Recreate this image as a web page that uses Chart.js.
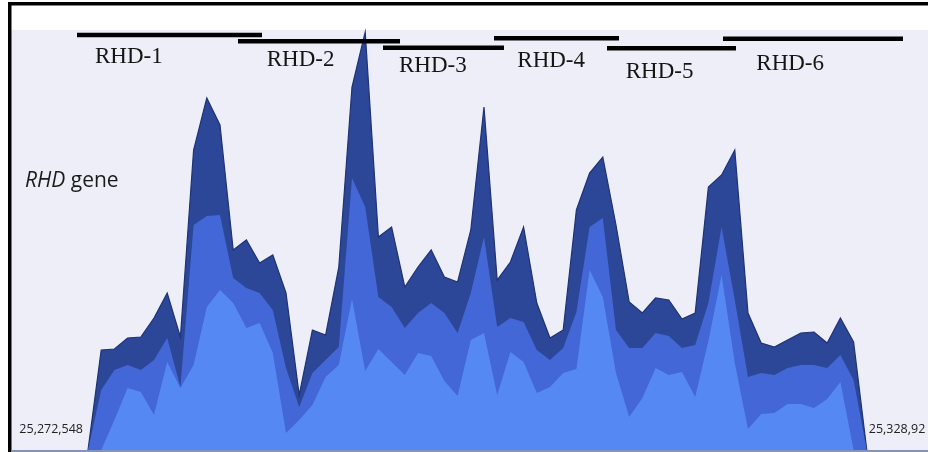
<!DOCTYPE html>
<html><head><meta charset="utf-8">
<script src="https://cdn.jsdelivr.net/npm/chart.js@4/dist/chart.umd.min.js"></script>
<style>html,body{margin:0;padding:0;background:#fff}canvas{display:block}</style>
</head><body>
<canvas id="c" width="928" height="452"></canvas>
<script>
// region + bins (coverage bins, ~955 bp each)
const START=25272548, BIN=955, NBINS=60;
const startLabel='25,272,548', endLabel='25,328,92';
const binPos=Array.from({length:NBINS},(_,i)=>START+i*BIN);

// depth per bin, three overlaid tracks (back to front)
const darkDepth=[0,100,101,112,113,132,157,113,300,352,325,200,210,187,195,157,55,120,115,183,
  363,418,213,223,163,183,200,173,168,220,343,170,188,223,147,112,120,240,277,293,
  225,148,137,152,150,131,137,263,275,300,137,107,103,110,117,118,107,132,108,0];
const midDepth=[0,60,80,85,80,90,112,63,225,234,235,172,162,157,140,82,43,77,90,103,
  272,243,153,143,122,137,147,137,117,157,213,123,132,128,100,90,102,138,223,232,
  120,102,102,117,114,102,105,147,223,150,73,77,75,82,85,85,82,95,70,0];
const lightDepth=[0,0,30,62,58,35,88,62,85,143,160,147,122,127,97,17,30,45,73,85,
  151,79,101,88,75,97,94,69,54,110,117,55,98,88,57,63,77,81,180,153,
  77,33,52,82,75,78,53,109,175,87,21,36,37,46,46,42,51,68,0,0];

// exon bars
const exonNames=['RHD-1','RHD-2','RHD-3','RHD-4','RHD-5','RHD-6'];
const exonStart=[25271752,25283400,25293891,25301922,25310098,25318490];
const exonEnd=[25285137,25295121,25302646,25310966,25319431,25331513];
const exonLevel=[415,408.7,402.2,411.8,401.7,411.3];
const exonLabelPos=[25273054,25285477,25295049,25303608,25311451,25320900];
const exonLabelLevel=[387,384,377.7,383.3,371.7,380];

const pts=arr=>arr.map((v,i)=>({x:binPos[i],y:v}));
const area=(data,color,border,bw)=>({data:pts(data),backgroundColor:color,borderColor:border,
  borderWidth:bw,fill:'origin',pointRadius:0,tension:0});

const datasets=[
  area(lightDepth,'#5688f4','#5688f4',0),
  area(midDepth,'#4367d6','#4367d6',0),
  area(darkDepth,'#2c4797','#1e3274',1.2),
];
exonNames.forEach((n,i)=>datasets.unshift({
  data:[{x:exonStart[i],y:exonLevel[i]},{x:exonEnd[i],y:exonLevel[i]}],
  borderColor:'#000',borderWidth:4.5,borderCapStyle:'butt',fill:false,pointRadius:0}));

const decor={
  id:'decor',
  beforeDraw(ch){
    const c=ch.ctx;
    c.save();
    c.fillStyle='#fff'; c.fillRect(0,0,ch.width,ch.height);
    c.fillStyle='#eeeef8'; c.fillRect(11,30,ch.width-11,421);
    c.fillStyle='#000';
    c.fillRect(8,2,ch.width-8,3.5);   // top frame
    c.fillRect(8,2,3.5,ch.height-2);  // left frame
    c.fillStyle='#8593b6'; c.fillRect(11,450,ch.width-11,2);
    c.restore();
  },
  afterDatasetsDraw(ch){
    const c=ch.ctx, xs=ch.scales.x, ys=ch.scales.y;
    c.save();
    c.fillStyle='#151515'; c.textAlign='left'; c.textBaseline='alphabetic';
    c.font='23px "Liberation Serif", serif';
    exonNames.forEach((n,i)=>c.fillText(n,xs.getPixelForValue(exonLabelPos[i]),ys.getPixelForValue(exonLabelLevel[i])));
    // gene title
    c.fillStyle='#1a1a1a';
    c.font='italic 21px "Open Sans", sans-serif';
    c.fillText('RHD',25,187);
    const w=c.measureText('RHD').width;
    c.font='21px "Open Sans", sans-serif';
    c.fillText(' gene',25+w,187);
    // region ends
    c.font='12.5px "Open Sans", sans-serif'; c.fillStyle='#222';
    const y0=ys.getPixelForValue(17);
    c.textAlign='right'; c.fillText(startLabel,xs.getPixelForValue(binPos[0])-5,y0);
    c.textAlign='left'; c.fillText(endLabel,xs.getPixelForValue(binPos[NBINS-1])+2,y0);
    c.restore();
  }
};

new Chart(document.getElementById('c'),{
  type:'line',
  data:{datasets},
  options:{
    responsive:false,animation:false,devicePixelRatio:1,
    layout:{padding:{left:0,right:0,top:0,bottom:2}},
    plugins:{legend:{display:false},tooltip:{enabled:false}},
    scales:{
      x:{type:'linear',display:false,min:25266181,max:25333322},
      y:{display:false,min:0,max:450}
    }
  },
  plugins:[decor]
});
</script>
</body></html>
